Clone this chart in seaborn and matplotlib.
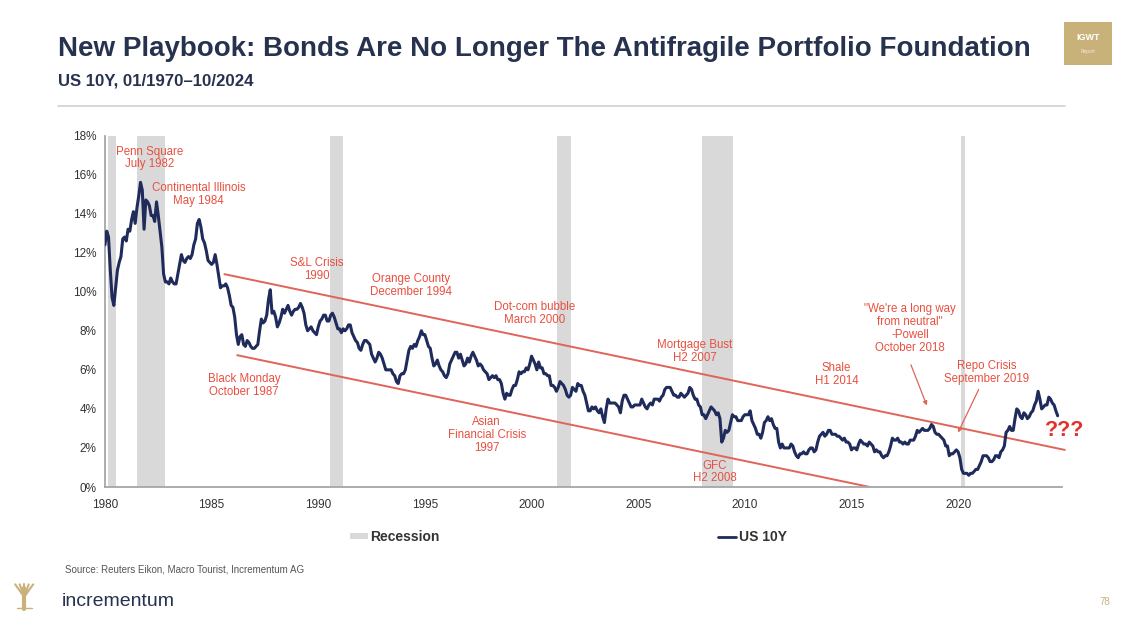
import matplotlib
matplotlib.use("Agg")
import matplotlib.pyplot as plt
import numpy as np
import pandas as pd
import seaborn as sns
from matplotlib.patches import Patch, Rectangle
from matplotlib.lines import Line2D

# ---------------- data ----------------
us10y = [
    12.4, 13.1, 12.8, 11.1, 9.7, 9.3, 10.2, 11.1, 11.5, 11.8, 12.7, 12.8,    # 1980
    12.6, 13.2, 13.1, 13.7, 14.1, 13.5, 14.3, 14.9, 15.6, 15.2, 13.2, 14.7,  # 1981
    14.6, 14.4, 13.9, 13.9, 13.6, 14.6, 13.9, 13.1, 12.3, 10.9, 10.5, 10.5,  # 1982
    10.4, 10.7, 10.5, 10.4, 10.4, 10.9, 11.4, 11.9, 11.6, 11.5, 11.7, 11.8,  # 1983
    11.7, 11.9, 12.4, 12.7, 13.5, 13.7, 13.3, 12.7, 12.5, 12.1, 11.6, 11.5,  # 1984
    11.4, 11.5, 11.9, 11.4, 10.8, 10.2, 10.3, 10.3, 10.4, 10.2, 9.8, 9.3,    # 1985
    9.2, 8.7, 7.8, 7.3, 7.7, 7.8, 7.3, 7.2, 7.5, 7.4, 7.2, 7.1,              # 1986
    7.1, 7.2, 7.3, 8.0, 8.6, 8.4, 8.5, 8.8, 9.6, 10.1, 8.9, 9.0,             # 1987
    8.7, 8.2, 8.4, 8.7, 9.1, 8.9, 9.1, 9.3, 9.0, 8.8, 9.0, 9.1,              # 1988
    9.1, 9.2, 9.4, 9.2, 8.9, 8.3, 8.0, 8.1, 8.2, 8.0, 7.9, 7.8,              # 1989
    8.2, 8.5, 8.6, 8.8, 8.8, 8.5, 8.5, 8.8, 8.9, 8.7, 8.4, 8.1,              # 1990
    8.1, 7.9, 8.1, 8.0, 8.1, 8.3, 8.3, 7.9, 7.7, 7.5, 7.4, 7.1,              # 1991
    7.0, 7.3, 7.5, 7.5, 7.4, 7.3, 6.8, 6.6, 6.4, 6.6, 6.9, 6.8,              # 1992
    6.6, 6.3, 6.0, 6.0, 6.0, 6.0, 5.8, 5.7, 5.4, 5.3, 5.7, 5.8,              # 1993
    5.8, 6.0, 6.5, 7.0, 7.2, 7.1, 7.3, 7.2, 7.5, 7.7, 8.0, 7.8,              # 1994
    7.8, 7.5, 7.2, 7.1, 6.6, 6.2, 6.3, 6.5, 6.2, 6.0, 5.9, 5.7,              # 1995
    5.6, 5.8, 6.3, 6.5, 6.7, 6.9, 6.9, 6.6, 6.8, 6.5, 6.2, 6.3,              # 1996
    6.6, 6.4, 6.7, 6.9, 6.7, 6.5, 6.2, 6.3, 6.2, 6.0, 5.9, 5.8,              # 1997
    5.5, 5.6, 5.7, 5.6, 5.7, 5.5, 5.5, 5.3, 4.8, 4.5, 4.8, 4.7,              # 1998
    4.7, 5.0, 5.2, 5.2, 5.5, 5.9, 5.8, 5.9, 5.9, 6.1, 6.0, 6.3,              # 1999
    6.7, 6.5, 6.3, 6.0, 6.4, 6.1, 6.1, 5.8, 5.8, 5.7, 5.7, 5.2,              # 2000
    5.2, 5.1, 4.9, 5.1, 5.4, 5.3, 5.2, 5.0, 4.7, 4.6, 4.7, 5.1,              # 2001
    5.0, 4.9, 5.3, 5.2, 5.2, 4.9, 4.7, 4.3, 3.9, 3.9, 4.1, 4.0,              # 2002
    4.1, 3.9, 3.8, 4.0, 3.6, 3.3, 4.0, 4.5, 4.3, 4.3, 4.3, 4.3,              # 2003
    4.2, 4.1, 3.8, 4.4, 4.7, 4.7, 4.5, 4.3, 4.1, 4.1, 4.2, 4.2,              # 2004
    4.2, 4.2, 4.5, 4.3, 4.1, 4.0, 4.2, 4.3, 4.2, 4.5, 4.5, 4.5,              # 2005
    4.4, 4.6, 4.7, 5.0, 5.1, 5.1, 5.1, 4.9, 4.7, 4.7, 4.6, 4.6,              # 2006
    4.8, 4.7, 4.6, 4.7, 4.8, 5.1, 5.0, 4.7, 4.5, 4.5, 4.2, 4.1,              # 2007
    3.7, 3.7, 3.5, 3.7, 3.9, 4.1, 4.0, 3.9, 3.7, 3.8, 3.5, 2.3,              # 2008
    2.5, 2.9, 2.8, 2.9, 3.3, 3.7, 3.6, 3.6, 3.4, 3.4, 3.4, 3.6,              # 2009
    3.7, 3.7, 3.7, 3.9, 3.4, 3.2, 3.0, 2.7, 2.7, 2.5, 2.8, 3.3,              # 2010
    3.4, 3.6, 3.4, 3.5, 3.2, 3.0, 3.0, 2.3, 2.0, 2.2, 2.0, 2.0,              # 2011
    2.0, 2.0, 2.2, 2.1, 1.8, 1.6, 1.5, 1.7, 1.7, 1.8, 1.7, 1.7,              # 2012
    1.9, 2.0, 2.0, 1.8, 1.9, 2.3, 2.6, 2.7, 2.8, 2.6, 2.7, 2.9,              # 2013
    2.9, 2.7, 2.7, 2.7, 2.6, 2.6, 2.5, 2.4, 2.5, 2.3, 2.3, 2.2,              # 2014
    1.9, 2.0, 2.0, 1.9, 2.2, 2.4, 2.3, 2.2, 2.2, 2.1, 2.3, 2.2,              # 2015
    2.1, 1.8, 1.9, 1.8, 1.8, 1.6, 1.5, 1.6, 1.6, 1.8, 2.1, 2.5,              # 2016
    2.4, 2.4, 2.5, 2.3, 2.3, 2.2, 2.3, 2.2, 2.2, 2.4, 2.4, 2.4,              # 2017
    2.6, 2.9, 2.8, 2.9, 3.0, 2.9, 2.9, 2.9, 3.0, 3.2, 3.1, 2.8,              # 2018
    2.7, 2.7, 2.6, 2.5, 2.4, 2.1, 2.1, 1.6, 1.7, 1.7, 1.8, 1.9,              # 2019
    1.8, 1.5, 0.9, 0.7, 0.7, 0.7, 0.6, 0.7, 0.7, 0.8, 0.9, 0.9,              # 2020
    1.1, 1.3, 1.6, 1.6, 1.6, 1.5, 1.3, 1.3, 1.4, 1.6, 1.6, 1.5,              # 2021
    1.8, 1.9, 2.1, 2.8, 2.9, 3.1, 2.9, 2.9, 3.5, 4.0, 3.9, 3.6,              # 2022
    3.5, 3.8, 3.7, 3.5, 3.6, 3.8, 3.9, 4.2, 4.4, 4.9, 4.5, 4.0,              # 2023
    4.1, 4.2, 4.2, 4.6, 4.5, 4.3, 4.2, 3.9, 3.65,                           # 2024
]
start_month = "1980-01"

recession_start = [1980.12, 1981.5, 1990.55, 2001.2, 2007.98, 2020.12]
recession_end = [1980.5, 1982.83, 1991.17, 2001.85, 2009.45, 2020.32]

channel_upper_x = [1985.6, 2025.0]
channel_upper_y = [10.9, 1.9]
channel_lower_x = [1986.2, 2015.86]
channel_lower_y = [6.75, 0.0]

year_ticks = [1980, 1985, 1990, 1995, 2000, 2005, 2010, 2015, 2020]
pct_ticks = [0, 2, 4, 6, 8, 10, 12, 14, 16, 18]

annotations = [
    ("Penn Square\nJuly 1982", 1982.1, 16.85),
    ("Continental Illinois\nMay 1984", 1984.4, 15.0),
    ("S&L Crisis\n1990", 1989.94, 11.15),
    ("Orange County\nDecember 1994", 1994.33, 10.3),
    ("Dot-com bubble\nMarch 2000", 2000.16, 8.9),
    ("Mortgage Bust\nH2 2007", 2007.66, 6.96),
    ("Black Monday\nOctober 1987", 1986.52, 5.2),
    ("Asian\nFinancial Crisis\n1997", 1997.9, 2.66),
    ("GFC\nH2 2008", 2008.6, 0.77),
    ("Shale\nH1 2014", 2014.3, 5.78),
    ("\"We're a long way\nfrom neutral\"\n-Powell\nOctober 2018", 2017.74, 8.13),
    ("Repo Crisis\nSeptember 2019", 2021.35, 5.88),
]
arrows = [
    ((2017.74, 6.39), (2018.58, 4.04)),
    ((2021.02, 5.12), (2019.94, 2.66)),
]

# ---------------- styling ----------------
sns.set_theme(style="white")
plt.rcParams["font.family"] = ["Liberation Sans", "DejaVu Sans"]

NAVY = "#1f2b5b"
TITLE = "#27324f"
RED = "#e8503f"
LINE_RED = "#e06457"
GOLD = "#c9b27a"

dates = pd.date_range(start_month, periods=len(us10y), freq="MS")
df = pd.DataFrame({
    "year": dates.year + (dates.month - 1) / 12.0,
    "US 10Y": us10y,
})

fig = plt.figure(figsize=(11.25, 6.25), dpi=100)
ax = fig.add_axes([0.0933, 0.2208, 0.8507, 0.5624])

for s, e in zip(recession_start, recession_end):
    ax.axvspan(s, e, color="#d9d9d9", lw=0, zorder=0)

ax.plot(channel_upper_x, channel_upper_y, color=LINE_RED, lw=1.4, zorder=2, clip_on=False)
ax.plot(channel_lower_x, channel_lower_y, color=LINE_RED, lw=1.4, zorder=2)

sns.lineplot(data=df, x="year", y="US 10Y", ax=ax, color=NAVY, lw=2.2, zorder=3, legend=False)

ax.set_xlim(1980, 2024.87)
ax.set_ylim(0, 18)
ax.set_xticks(year_ticks)
ax.set_xticklabels([str(y) for y in year_ticks])
ax.set_yticks(pct_ticks)
ax.set_yticklabels([f"{p}%" for p in pct_ticks])
ax.set_xlabel("")
ax.set_ylabel("")
for side in ["top", "right"]:
    ax.spines[side].set_visible(False)
for side in ["left", "bottom"]:
    ax.spines[side].set_color("#a6a6a6")
    ax.spines[side].set_linewidth(1.3)
ax.tick_params(axis="both", which="both", direction="out", length=3, width=1,
               color="#a6a6a6", labelsize=8.5, labelcolor="#333333", pad=3)
ax.tick_params(axis="x", pad=6)
ax.grid(False)

for txt, x, y in annotations:
    ax.text(x, y, txt, color=RED, fontsize=8.3, ha="center", va="center",
            linespacing=1.1, zorder=4)
ax.text(2025.0, 2.9, "???", color="#e4302a", fontsize=15.5, fontweight="bold",
        ha="center", va="center", clip_on=False)
for (x0, y0), (x1, y1) in arrows:
    ax.annotate("", xy=(x1, y1), xytext=(x0, y0),
                arrowprops=dict(arrowstyle="-|>", color=LINE_RED, lw=0.9,
                                mutation_scale=6))

# legend
handles = [Patch(facecolor="#d9d9d9", edgecolor="none"),
           Line2D([0], [0], color=NAVY, lw=2)]
leg = fig.legend(handles, ["Recession", "US 10Y"], loc="center",
                 bbox_to_anchor=(0.505, 0.141), ncol=2, frameon=False,
                 handlelength=1.3, handleheight=0.35, handletextpad=0.2,
                 columnspacing=20, prop={"weight": "bold", "size": 10})
for t in leg.get_texts():
    t.set_color("#333333")

# header
fig.text(0.0515, 0.921, "New Playbook: Bonds Are No Longer The Antifragile Portfolio Foundation",
         fontsize=20, fontweight="bold", color=TITLE, ha="left", va="center")
fig.text(0.0515, 0.871, "US 10Y, 01/1970\u201310/2024", fontsize=12.1,
         fontweight="bold", color=TITLE, ha="left", va="center")
fig.add_artist(Line2D([0.0515, 0.947], [0.83, 0.83], color="#d0d0d0", lw=1.2))

# IGWT badge
fig.add_artist(Rectangle((0.9455, 0.896), 0.043, 0.069, facecolor=GOLD,
                         edgecolor="none", transform=fig.transFigure))
fig.text(0.967, 0.94, "IGWT", color="white", fontsize=6.5, fontweight="bold",
         ha="center", va="center")
fig.text(0.967, 0.918, "Report", color="#f3ecd9", fontsize=3.5,
         ha="center", va="center")

# footer
fig.text(0.058, 0.088, "Source: Reuters Eikon, Macro Tourist, Incrementum AG",
         fontsize=7, color="#555555", ha="left", va="center")
fig.add_artist(Line2D([0.0215, 0.0215], [0.025, 0.06], color=GOLD, lw=3))
for dx in [-0.008, -0.004, 0.0, 0.004, 0.008]:
    fig.add_artist(Line2D([0.0215, 0.0215 + dx], [0.045, 0.065], color=GOLD, lw=1.5))
fig.add_artist(Line2D([0.015, 0.028], [0.027, 0.027], color=GOLD, lw=1))
fig.text(0.055, 0.037, "incrementum", fontsize=14, color=TITLE,
         ha="left", va="center")
fig.text(0.982, 0.037, "78", fontsize=7, color=GOLD, ha="center", va="center")

fig.savefig("out.png", dpi=100, facecolor="white")
